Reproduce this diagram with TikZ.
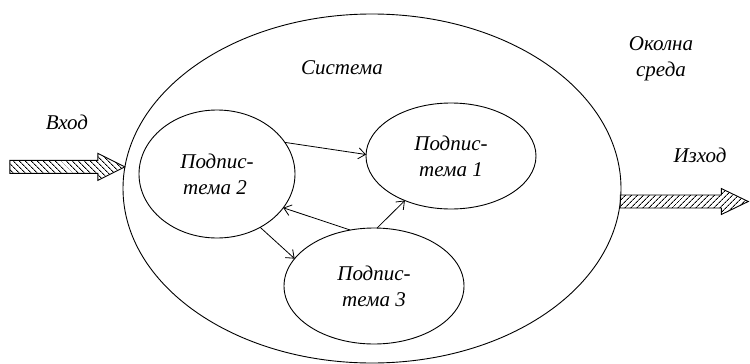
\documentclass[tikz,border=0pt]{standalone}
\usepackage{fontspec}
\setmainfont{Liberation Serif}
\usetikzlibrary{shapes.geometric}
\usetikzlibrary{patterns.meta}
\usetikzlibrary{arrows.meta}

\begin{document}
\begin{tikzpicture}[x=1pt,y=-1pt,
         every node/.style = {font=\fontsize{21}{26}\selectfont\itshape},
         system/.style = {ellipse, draw, line width=0.9pt, outer sep=0pt, inner sep=0pt},
         subsystem/.style = {ellipse, draw, line width=0.9pt, outer sep=0pt,
         inner sep=0pt, align=center},
         link/.style = {line width=0.8pt, -{Straight Barb[length=7pt,width=11pt]}},
         inflow/.style = {draw, line width=0.9pt,
         pattern={Lines[angle=-45,distance=4pt,line width=0.9pt]}},
         outflow/.style = {draw, line width=0.9pt,
         pattern={Lines[angle=45,distance=4pt,line width=0.9pt]}}
]
      \useasboundingbox (0,0) rectangle (750,364);

      % system and its environment
      \node[system, minimum width=498pt, minimum height=349pt] (sys) at (372,188.5) {};
      \node (systxt) at (342,68) {Система};
      \node[align=center] (env) at (661,59) {Околна\\среда};

      % subsystems
      \node[subsystem, minimum width=170pt, minimum height=106pt] (sub1) at (451,156)
         {Подпис-\\тема 1};
      \node[subsystem, minimum width=156pt, minimum height=128pt] (sub2) at (217,174)
         {Подпис-\\тема 2\hspace*{4pt}};
      \node[subsystem, minimum width=180pt, minimum height=116pt] (sub3) at (374,286)
         {Подпис-\\тема 3};

      % links between subsystems
      \draw[link] (sub2.25)  -- (sub1.179);
      \draw[link] (sub3.113) -- (sub2.-27);
      \draw[link] (sub2.-51) -- (sub3.161);
      \draw[link] (sub3.87)  -- (sub1.224);

      % input
      \node (intxt) at (67,122) {Вход};
      \path[inflow] (sys.175) -- ++(-27,-13.5) -- ++(0,7) -- ++(-88,0)
         -- ++(0,13) -- ++(88,0) -- ++(0,7) -- cycle;

      % output
      \node (outtxt) at (700,155) {Изход};
      \path[outflow] (sys.-3) -- ++(0,-6.5) -- ++(101,0) -- ++(0,-6.5)
         -- ++(27,13) -- ++(-27,13) -- ++(0,-6.5) -- ++(-101,0) -- cycle;
\end{tikzpicture}
\end{document}
